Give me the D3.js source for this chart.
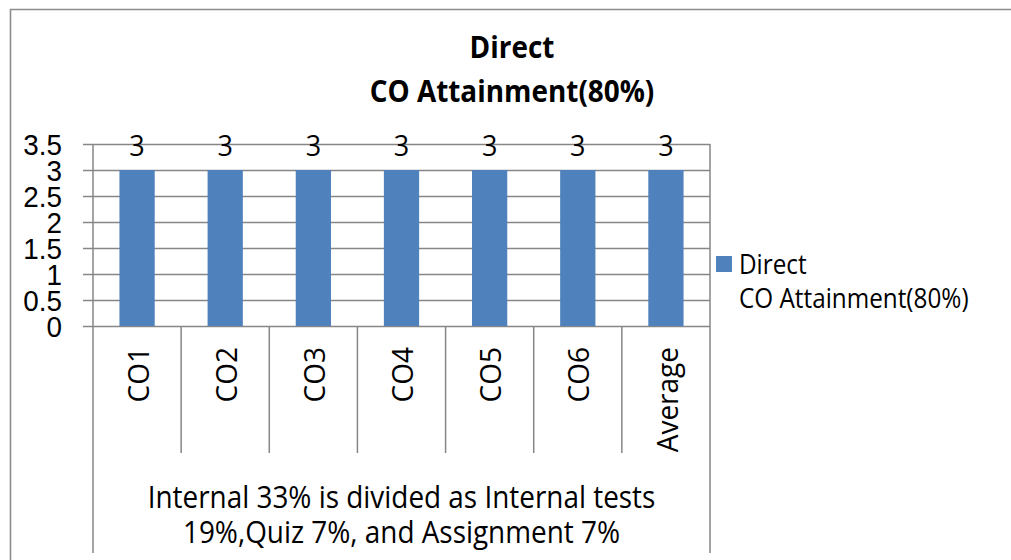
<!DOCTYPE html>
<html>
<head>
<meta charset="utf-8">
<script src="https://cdn.jsdelivr.net/npm/d3@7"></script>
<style>
    body { margin: 0; background: #fff; }
    svg { display: block; font-family: "Open Sans", sans-serif; }
</style>
</head>
<body>
<div id="container"></div>
<script>
// chart data
const categories = ["CO1", "CO2", "CO3", "CO4", "CO5", "CO6", "Average"];
const values = [3, 3, 3, 3, 3, 3, 3];
const yTicks = [0, 0.5, 1, 1.5, 2, 2.5, 3, 3.5];
const titleLines = ["Direct", "CO Attainment(80%)"];
const legendLines = ["Direct", "CO Attainment(80%)"];
const groupLines = ["Internal 33% is divided as Internal tests", "19%,Quiz 7%, and Assignment 7%"];

document.addEventListener("DOMContentLoaded", function () {
    const width = 1011, height = 560;
    const sx = 0.9;   // squeeze Open Sans a bit so it reads like the narrower original font
    const barColor = "#4F81BD";
    const gridColor = "#868686";

    const left = 93, right = 710, top = 144, bottom = 326;

    const svg = d3.select("#container").append("svg")
        .attr("width", width)
        .attr("height", height);

    // places text at x,y with the horizontal squeeze
    const place = function (sel, x, y, rot, s) {
        sel.attr("transform", `translate(${x},${y}) scale(${s || sx},1)` + (rot ? ` rotate(${rot})` : ""));
        return sel;
    };

    // outer chart border (right and bottom fall off the picture)
    svg.append("path")
        .attr("d", `M10.5,${height + 5}V9.5H${width + 5}`)
        .attr("fill", "none")
        .attr("stroke", "#8c8c8c")
        .attr("stroke-width", 1.6);

    const x = d3.scaleBand()
        .domain(categories)
        .range([left, right])
        .paddingInner(0.6)
        .paddingOuter(0.3);

    const y = d3.scaleLinear()
        .domain([0, 3.5])
        .range([bottom, top]);

    // gridlines + y axis
    const yAxis = d3.axisLeft(y)
        .tickValues(yTicks)
        .tickSize(-(right - left))
        .tickFormat("");

    const gy = svg.append("g")
        .attr("transform", `translate(${left},0)`)
        .call(yAxis);
    gy.select(".domain").remove();
    gy.selectAll(".tick line")
        .attr("x1", -10)
        .attr("stroke", gridColor)
        .attr("stroke-width", 1.5);

    gy.selectAll(".tick").each(function (d) {
        const t = d3.select(this).append("text")
            .attr("text-anchor", "end")
            .attr("dy", "0.36em")
            .attr("fill", "#000")
            .style("font-size", "29px")
            .text(d);
        place(t, -31, 0, 0, 0.96);
    });

    // category dividers, outer ones run down past the group label
    const bounds = categories.map(c => x(c) - x.step() * x.paddingInner() / 2);
    bounds.push(right);
    bounds[0] = left;
    svg.append("g").selectAll("line")
        .data(bounds)
        .join("line")
        .attr("x1", d => d)
        .attr("x2", d => d)
        .attr("y1", (d, i) => (i === 0 || i === bounds.length - 1) ? top : bottom)
        .attr("y2", (d, i) => (i === 0 || i === bounds.length - 1) ? 553 : 453)
        .attr("stroke", gridColor)
        .attr("stroke-width", 1.5);

    // bars
    svg.append("g").selectAll("rect")
        .data(values)
        .join("rect")
        .attr("x", (d, i) => x(categories[i]))
        .attr("width", x.bandwidth())
        .attr("y", d => y(d))
        .attr("height", d => y(0) - y(d))
        .attr("fill", barColor);

    // value labels
    svg.append("g").selectAll("text")
        .data(values)
        .join("text")
        .attr("text-anchor", "middle")
        .style("font-size", "30px")
        .text(d => d)
        .each(function (d, i) {
            place(d3.select(this), x(categories[i]) + x.bandwidth() / 2, y(d) - 14);
        });

    // category labels (rotated)
    svg.append("g").selectAll("text")
        .data(categories)
        .join("text")
        .attr("text-anchor", "end")
        .attr("dy", "0.36em")
        .style("font-size", "28px")
        .text(d => d)
        .each(function (d) {
            place(d3.select(this), x(d) + x.bandwidth() / 2 + 1, 347, -90, 1.05);
        });

    // group label under the categories
    svg.append("g").selectAll("text")
        .data(groupLines)
        .join("text")
        .attr("text-anchor", "middle")
        .style("font-size", "31px")
        .text(d => d)
        .each(function (d, i) {
            place(d3.select(this), (left + right) / 2, 508 + i * 35);
        });

    // title
    svg.append("g").selectAll("text")
        .data(titleLines)
        .join("text")
        .attr("text-anchor", "middle")
        .style("font-size", "31px")
        .style("font-weight", "bold")
        .text(d => d)
        .each(function (d, i) {
            place(d3.select(this), 512, 58 + i * 44);
        });

    // legend
    const legend = svg.append("g");
    legend.append("rect")
        .attr("x", 716)
        .attr("y", 256)
        .attr("width", 16)
        .attr("height", 16)
        .attr("fill", barColor);
    legend.selectAll("text")
        .data(legendLines)
        .join("text")
        .style("font-size", "27px")
        .text(d => d)
        .each(function (d, i) {
            place(d3.select(this), 739, 274 + i * 34);
        });
});
</script>
</body>
</html>
